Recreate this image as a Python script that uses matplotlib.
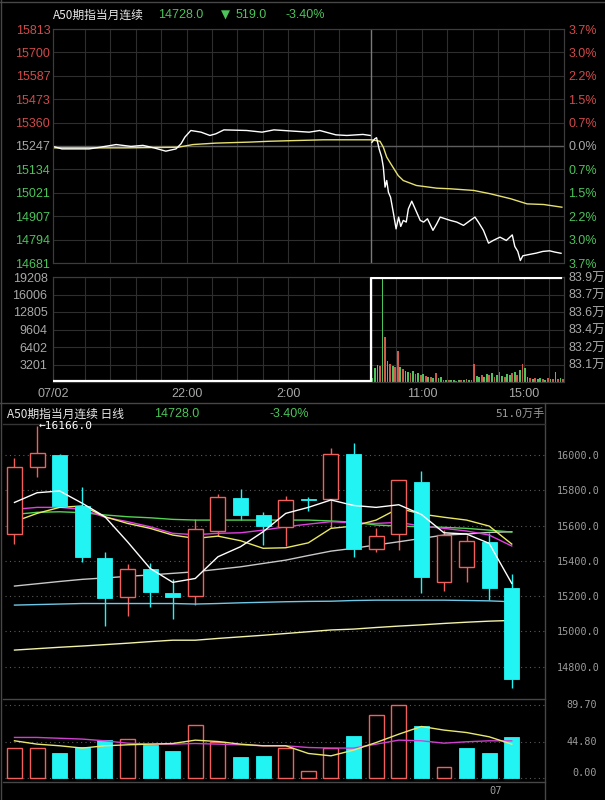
import matplotlib
matplotlib.use('Agg')
import matplotlib.pyplot as plt
from matplotlib.lines import Line2D

# ---------------- intraday data (night session 16:45-05:15, day session 09:00-16:35)
prev_close = 15247
last_price = 14728

night_times = ['16:45', '17:06', '18:10', '18:36', '19:14', '19:49', '20:17', '20:43', '21:11',
               '21:35', '21:47', '21:56', '22:10', '22:34', '22:55', '23:09', '23:28', '00:22',
               '00:58', '01:26', '02:11', '02:49', '03:14', '03:52', '04:18', '04:56', '05:13']
night_price = [15245, 15233, 15233, 15241, 15254, 15245, 15250, 15238, 15222,
               15233, 15258, 15290, 15322, 15314, 15298, 15306, 15325, 15322,
               15314, 15325, 15319, 15314, 15322, 15301, 15298, 15303, 15298]

day_times = ['09:02', '09:09', '09:13', '09:19', '09:25', '09:29', '09:33', '09:37', '09:41',
             '09:46', '09:53', '09:59', '10:05', '10:10', '10:16', '10:23', '10:28', '10:36',
             '10:44', '10:56', '11:04', '11:13', '11:26', '11:35', '11:43', '11:55', '12:07',
             '12:22', '12:38', '12:54', '13:05', '13:13', '13:25', '13:37', '13:48', '14:04',
             '14:19', '14:33', '14:39', '14:46', '14:52', '14:58', '15:10', '15:30', '15:45',
             '16:01', '16:13', '16:28']
day_price = [15265, 15282, 15287, 15233, 15193, 15144, 15048, 15080, 15023,
             14999, 14919, 14846, 14903, 14858, 14887, 14879, 14943, 14980,
             14943, 14887, 14879, 14895, 14839, 14871, 14903, 14895, 14887,
             14879, 14863, 14887, 14903, 14879, 14839, 14777, 14790, 14806,
             14790, 14817, 14761, 14737, 14693, 14716, 14721, 14729, 14737,
             14740, 14734, 14728]

avg_night_times = ['16:45', '19:36', '21:40', '22:15', '23:09', '00:31', '01:16', '03:23', '05:15']
avg_night = [15238, 15238, 15241, 15254, 15261, 15266, 15270, 15277, 15277]
avg_day_times = ['09:00', '09:21', '09:29', '09:37', '09:49', '10:04', '10:16', '10:47', '11:35',
                 '12:07', '13:02', '13:41', '14:29', '15:08', '15:47', '16:30']
avg_day = [15277, 15270, 15241, 15193, 15153, 15104, 15080, 15056, 15043,
           15040, 15032, 15016, 14992, 14967, 14964, 14951]

night_vol_times = ['16:45', '16:50', '17:20', '18:30', '19:40', '20:30', '21:50', '22:10', '22:40',
                   '23:30', '00:10', '00:50', '02:00', '03:00', '03:40', '04:20', '04:50', '05:10']
night_vol = [500, 250, 150, 100, 120, 100, 200, 350, 150, 300, 100, 150, 100, 120, 200, 250, 300, 400]
night_vol_dir = 'grgrgrggrgrggrgrgr'

# day volume, one bar per 6 minutes from 09:00
day_vol = [800, 2600, 3200, 2900, 19208, 8300, 3900, 3300, 3000, 2700,
           5600, 2800, 2400, 2100, 1800, 1600, 2000, 1400, 1700, 1300,
           1500, 1100, 900, 1000, 800, 1600, 700, 900, 400, 350,
           300, 450, 300, 250, 400, 300, 350, 500, 300, 400,
           3300, 1100, 900, 1300, 1000, 1500, 1200, 1700, 1000, 1300,
           1800, 1100, 900, 1400, 1200, 1600, 1900, 1300, 2200, 3300,
           2500, 900, 700, 600, 800, 500, 700, 600, 400, 700,
           500, 600, 1900, 500, 800, 600]
day_vol_dir = ('gggrgrgrgr' 'rgrggrgrgr' 'grgrgrggrg' 'rggrgrgrgr'
               'rggrggrgrg' 'rgrggrgrgr' 'ggrgrggrgr' 'grgrgr')

oi_night = 82.945
oi_day = 83.895
oi_labels = ['83.1万', '83.2万', '83.4万', '83.6万', '83.7万', '83.9万']

# ---------------- daily data
opens = [15550, 15934, 16000, 15711, 15416, 15193, 15351, 15215, 15200, 15570, 15754, 15658,
         15590, 15750, 15749, 16006, 15465, 15550, 15845, 15281, 15366, 15505, 15245]
closes = [15934, 16010, 15711, 15420, 15190, 15351, 15224, 15196, 15578, 15763, 15660, 15597,
          15743, 15747, 16004, 15465, 15540, 15856, 15310, 15546, 15512, 15247, 14728]
highs = [15981, 16166, 16005, 15817, 15451, 15382, 15389, 15295, 15635, 15779, 15807, 15678,
         15766, 15760, 16038, 16070, 15584, 15860, 15909, 15574, 15546, 15556, 15325]
lows = [15495, 15873, 15705, 15395, 15031, 15088, 15139, 15070, 15149, 15540, 15631, 15489,
        15484, 15684, 15584, 15420, 15451, 15461, 15219, 15230, 15281, 15177, 14681]

ma5 = [15731, 15786, 15796, 15726, 15650, 15508, 15357, 15278, 15300, 15423, 15480, 15565,
       15669, 15703, 15745, 15714, 15703, 15718, 15663, 15559, 15552, 15499, 15272]
ma10 = [15622, 15669, 15703, 15711, 15650, 15612, 15584, 15546, 15527, 15540, 15514, 15471,
        15474, 15502, 15584, 15597, 15631, 15698, 15665, 15647, 15631, 15597, 15495]
ma20 = [15692, 15703, 15703, 15692, 15647, 15622, 15593, 15556, 15548, 15556, 15559, 15574,
        15593, 15608, 15622, 15615, 15612, 15618, 15597, 15584, 15569, 15546, 15484]
ma30 = [15663, 15675, 15678, 15673, 15660, 15650, 15644, 15635, 15631, 15631, 15631, 15631,
        15631, 15631, 15626, 15619, 15603, 15597, 15593, 15590, 15584, 15574, 15563]
ma60 = [15257, 15270, 15283, 15295, 15303, 15312, 15320, 15329, 15338, 15352, 15366, 15385,
        15404, 15430, 15455, 15471, 15490, 15508, 15527, 15546, 15552, 15561, 15565]
ma120 = [15149, 15152, 15155, 15158, 15158, 15158, 15158, 15158, 15155, 15158, 15162, 15165,
         15168, 15170, 15171, 15175, 15177, 15177, 15177, 15177, 15175, 15173, 15168]
ma250 = [14894, 14902, 14910, 14917, 14925, 14933, 14942, 14950, 14950, 14960, 14969, 14978,
         14988, 14998, 15008, 15013, 15022, 15030, 15037, 15045, 15052, 15058, 15062]

volumes = [37, 37, 31, 37.7, 46.7, 48, 40.6, 33.7, 65, 44.7, 26.3, 27.5,
           37, 8.8, 37, 52, 77.3, 89.7, 63.4, 14.4, 36.5, 31.2, 51.0]
vol_ma5 = [45.9, 41.8, 39.8, 37, 39.8, 41, 41.8, 42.6, 46.7, 45, 41.8, 39.8,
           39.8, 30.4, 27.5, 34.5, 43.8, 54, 63.4, 59, 56, 50.8, 41.8]
vol_ma10 = [50, 50, 49, 48, 45.9, 43, 41.8, 41.8, 42.6, 41.8, 41, 39.8,
            39.8, 37.7, 37, 37, 41.8, 46.7, 45.9, 43, 44.7, 45.9, 45.9]

price_ticks = [16000, 15800, 15600, 15400, 15200, 15000, 14800]
vol_ticks = [89.70, 44.80, 0.00]

# ---------------- style
RED = '#d24a4a'
GREEN = '#4cc45a'
GREY = '#a8a8a8'
LGREY = '#9c9c9c'
CANDLE_RED = '#f0605c'
CYAN = '#22f4f4'
GRID = '#2e2e2e'
CJK = ['Noto Sans CJK SC', 'DejaVu Sans']
MONO = ['DejaVu Sans Mono', 'Noto Sans CJK SC']
SANS = ['Liberation Sans', 'Noto Sans CJK SC', 'DejaVu Sans']

W, H = 605, 800
fig = plt.figure(figsize=(W / 100, H / 100), dpi=100, facecolor='black')


def box(x0, y0, x1, y1):
    return [x0 / W, 1 - y1 / H, (x1 - x0) / W, (y1 - y0) / H]


def night_t(s):
    h, m = map(int, s.split(':'))
    return ((h * 60 + m - (16 * 60 + 45)) % 1440) / 60.0


def day_t(s):
    h, m = map(int, s.split(':'))
    return 12.5 + (h * 60 + m - 540) / 60.0


def ftext(x, y, s, **kw):
    fig.text(x / W, 1 - y / H, s, va='center', **kw)


def hline(y, x0, x1, color='#474747'):
    fig.add_artist(Line2D([x0 / W, x1 / W], [1 - y / H, 1 - y / H], color=color, lw=1, zorder=-1))


def vline(x, y0, y1, color='#474747'):
    fig.add_artist(Line2D([x / W, x / W], [1 - y0 / H, 1 - y1 / H], color=color, lw=1, zorder=-1))


X_END = day_t('16:35')
session_x = day_t('09:00')
hour_x = [night_t('%02d:00' % h) for h in [18, 19, 20, 21, 22, 23, 0, 1, 2, 3, 4]] + \
         [day_t('%02d:00' % h) for h in range(10, 17)]
time_labels = {0.0: '07/02', night_t('22:00'): '22:00', night_t('02:00'): '2:00',
               day_t('11:00'): '11:00', day_t('15:00'): '15:00'}

# ---------------- intraday price panel
ax1 = fig.add_axes(box(53, 29, 564, 263))
ax1.set_facecolor('none')
step = (15813 - prev_close) / 5
lvls = [prev_close + k * step for k in range(-5, 6)]
ax1.set_ylim(lvls[0], lvls[-1])
ax1.set_xlim(0, X_END)
ax1.set_yticks(lvls)
ax1.set_yticklabels(['%d' % round(v) for v in lvls], family=SANS, fontsize=9)
for lab, v in zip(ax1.get_yticklabels(), lvls):
    lab.set_color(RED if v > prev_close + 1 else (GREEN if v < prev_close - 1 else GREY))
ax1.set_xticks(hour_x)
ax1.set_xticklabels([])
ax1.grid(color=GRID, lw=0.8)
ax1.tick_params(length=0, pad=2)
ax1.axhline(prev_close, color='#5e5e5e', lw=1)
ax1.axvline(session_x, color='#7a7a7a', lw=1)

ax1.plot([night_t(t) for t in avg_night_times] + [day_t(t) for t in avg_day_times],
         avg_night + avg_day, color='#e6e070', lw=1)
ax1.plot([night_t(t) for t in night_times], night_price, color='white', lw=1)
ax1.plot([day_t(t) for t in day_times], day_price, color='white', lw=1)

ax1r = ax1.twinx()
ax1r.set_ylim(ax1.get_ylim())
ax1r.set_yticks(lvls)
ax1r.set_yticklabels(['%.1f%%' % abs((v - prev_close) / prev_close * 100) for v in lvls],
                     family=SANS, fontsize=9)
for lab, v in zip(ax1r.get_yticklabels(), lvls):
    lab.set_color(RED if v > prev_close + 1 else (GREEN if v < prev_close - 1 else GREY))
ax1r.tick_params(length=0, pad=3)
for a in (ax1, ax1r):
    for sp in a.spines.values():
        sp.set_color('#3c3c3c')

# ---------------- intraday volume panel
ax2 = fig.add_axes(box(53, 277, 564, 382))
ax2.set_facecolor('none')
vmax = max(day_vol)
vlv = [vmax * k / 6 for k in range(0, 7)]
ax2.set_ylim(0, vmax)
ax2.set_xlim(0, X_END)
ax2.set_yticks(vlv)
ax2.set_yticklabels([''] + ['%d' % int(v) for v in vlv[1:]], family=SANS, fontsize=9, color=GREY)
xt = sorted(set(hour_x) | set(time_labels))
ax2.set_xticks(xt)
ax2.set_xticklabels([time_labels.get(x, '') for x in xt], family=SANS, fontsize=9, color=GREY)
ax2.grid(color=GRID, lw=0.8)
ax2.tick_params(length=0, pad=4)
ax2.axvline(session_x, color='#7a7a7a', lw=1)

ax2.bar([night_t(t) for t in night_vol_times], night_vol, width=0.06,
        color=[GREEN if d == 'g' else RED for d in night_vol_dir], zorder=2)
ax2.bar([session_x + (6 * k + 3) / 60 for k in range(len(day_vol))], day_vol, width=0.07,
        color=[GREEN if d == 'g' else '#d2584a' for d in day_vol_dir], zorder=2)

ax2r = ax2.twinx()
oi_lo = 83.1 - 0.8 / 5
ax2r.set_ylim(oi_lo, 83.9)
ax2r.set_yticks([83.1 + k * 0.16 for k in range(6)])
ax2r.set_yticklabels(oi_labels, family=SANS, fontsize=9, color=GREY)
ax2r.tick_params(length=0, pad=3)
ax2r.plot([0, session_x, session_x, day_t('16:28')], [oi_night, oi_night, oi_day, oi_day],
          color='white', lw=1.6, zorder=3)
for a in (ax2, ax2r):
    for sp in a.spines.values():
        sp.set_color('#3c3c3c')

# ---------------- top header
ftext(53, 15, 'A50期指当月连续', color='#e8e8e8', family=CJK, fontsize=8.5)
ftext(158, 15, '%.1f' % last_price, color=GREEN, family=SANS, fontsize=9)
ftext(221, 15, '▼', color=GREEN, family=['DejaVu Sans'], fontsize=8.5)
ftext(236, 15, '%.1f' % (prev_close - last_price), color=GREEN, family=SANS, fontsize=9)
ftext(286, 15, '%.2f%%' % ((last_price - prev_close) / prev_close * 100), color=GREEN,
      family=SANS, fontsize=9)

# ---------------- daily candle panel
ax3 = fig.add_axes(box(5, 425, 545, 700))
ax3.set_facecolor('none')
n = len(opens)
ax3.set_xlim(-0.42, 23.47)
ax3.set_ylim(14611, 16170)
for p in price_ticks:
    ax3.axhline(p, color='#5a5a5a', lw=0.8, ls=(0, (1, 3)), zorder=1)

for i in range(n):
    o, c, hi, lo = opens[i], closes[i], highs[i], lows[i]
    up = c > o
    col = CANDLE_RED if up else CYAN
    top, bot = max(o, c), min(o, c)
    ax3.vlines(i, top, hi, color=col, lw=1, zorder=2)
    ax3.vlines(i, lo, bot, color=col, lw=1, zorder=2)
    if up:
        ax3.bar(i, top - bot, bottom=bot, width=0.66, facecolor='black', edgecolor=col, lw=1, zorder=4)
    else:
        ax3.bar(i, max(top - bot, 3), bottom=bot, width=0.66, facecolor=col, edgecolor=col, lw=0.6, zorder=4)

xs = list(range(n))
ax3.plot(xs, ma250, color='#f2f2a8', lw=1, zorder=3)
ax3.plot(xs, ma120, color='#6ec8e6', lw=1, zorder=3)
ax3.plot(xs, ma60, color='#c8c8c8', lw=1, zorder=3)
ax3.plot(xs, ma30, color='#52d452', lw=1, zorder=3)
ax3.plot(xs, ma20, color='#e040e0', lw=1, zorder=3)
ax3.plot(xs, ma10, color='#e8e860', lw=1, zorder=3)
ax3.plot(xs, ma5, color='white', lw=1, zorder=5)

imax = highs.index(max(highs))
ax3.text(imax + 0.05, highs[imax], '\u2190%.1f' % highs[imax], color='white',
         family=['DejaVu Sans Mono'], fontsize=8, va='center', ha='left', zorder=6, clip_on=False)

ax3.yaxis.tick_right()
ax3.set_yticks(price_ticks)
ax3.set_yticklabels(['%.1f' % p for p in price_ticks], family=MONO, fontsize=7.3, color=LGREY)
ax3.tick_params(length=0, pad=8.5)
ax3.set_xticks([])
for sp in ax3.spines.values():
    sp.set_visible(False)

# ---------------- daily volume panel
ax4 = fig.add_axes(box(5, 700, 545, 782))
ax4.set_facecolor('none')
ax4.set_xlim(-0.42, 23.47)
ax4.set_ylim(-4.5, 95.8)
for v in vol_ticks:
    ax4.axhline(v, color='#5a5a5a', lw=0.8, ls=(0, (1, 3)), zorder=1)
for i in range(n):
    ref = closes[i - 1] if i > 0 else opens[i]
    if closes[i] >= ref:
        ax4.bar(i, volumes[i], width=0.66, facecolor='black', edgecolor=CANDLE_RED, lw=1, zorder=2)
    else:
        ax4.bar(i, volumes[i], width=0.66, facecolor=CYAN, edgecolor=CYAN, lw=0.6, zorder=2)
ax4.plot(xs, vol_ma10, color='#d040d0', lw=1, zorder=3)
ax4.plot(xs, vol_ma5, color='#e8e870', lw=1, zorder=3)
for v in vol_ticks:
    ax4.text(1.096, v, '%.2f' % v, transform=ax4.get_yaxis_transform(), ha='right',
             va='bottom' if v == 0 else 'center', family=MONO, fontsize=7.3, color=LGREY)
ax4.set_yticks([])
ax4.set_xticks([21])
ax4.set_xticklabels(['07'], family=MONO, fontsize=7.5, color=LGREY, ha='left')
ax4.tick_params(length=0, pad=3)
for sp in ax4.spines.values():
    sp.set_visible(False)

# ---------------- lower header
ftext(7, 414, 'A50期指当月连续 日线', color='#e8e8e8', family=CJK, fontsize=8.5)
ftext(154, 414, '%.1f' % last_price, color=GREEN, family=SANS, fontsize=9)
ftext(269, 414, '%.2f%%' % ((last_price - prev_close) / prev_close * 100), color=GREEN,
      family=SANS, fontsize=9)
ftext(544, 414, '%.1f万手' % volumes[-1], color=LGREY, family=MONO, fontsize=8, ha='right')

# ---------------- frame lines
hline(2, 0, W)
vline(1, 0, H)
hline(403, 0, W)
vline(545, 403, H)
hline(424, 3, 545, '#353535')
hline(699, 3, 545)
hline(782, 3, 545)

fig.savefig('out.png', dpi=100, facecolor='black')
